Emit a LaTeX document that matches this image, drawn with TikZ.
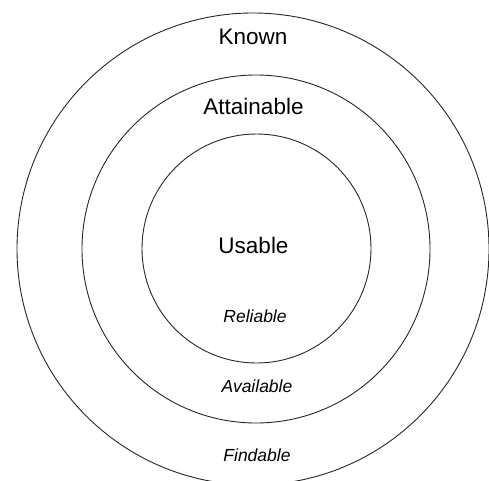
\documentclass[tikz,border=0pt]{standalone}
\usepackage{fontspec}
\setmainfont{Liberation Sans}
\begin{document}
\begin{tikzpicture}[x=1pt,y=1pt,
  ring/.style={draw=black!85,line width=0.9pt},
  bigtext/.style={inner sep=0pt,anchor=base,font=\fontsize{22.5}{27}\selectfont},
  smalltext/.style={inner sep=0pt,anchor=base,font=\fontsize{17.5}{21}\selectfont\itshape}]
\useasboundingbox (0,0) rectangle (489,480);
\clip (0,0) rectangle (489,480);
% concentric rings
\draw[ring] (253,231) circle (236);
\draw[ring] (256,231) circle (174);
\draw[ring] (256.5,231.5) circle (114.5);
% ring titles
\node[bigtext] (known) at (253,435) {Known};
\node[bigtext] (attainable) at (253.5,365) {Attainable};
\node[bigtext] (usable) at (253.5,227) {Usable};
% qualities
\node[smalltext] (reliable) at (255,157.3) {Reliable};
\node[smalltext] (available) at (257,87.3) {Available};
\node[smalltext] (findable) at (257,18.3) {Findable};
\end{tikzpicture}
\end{document}
